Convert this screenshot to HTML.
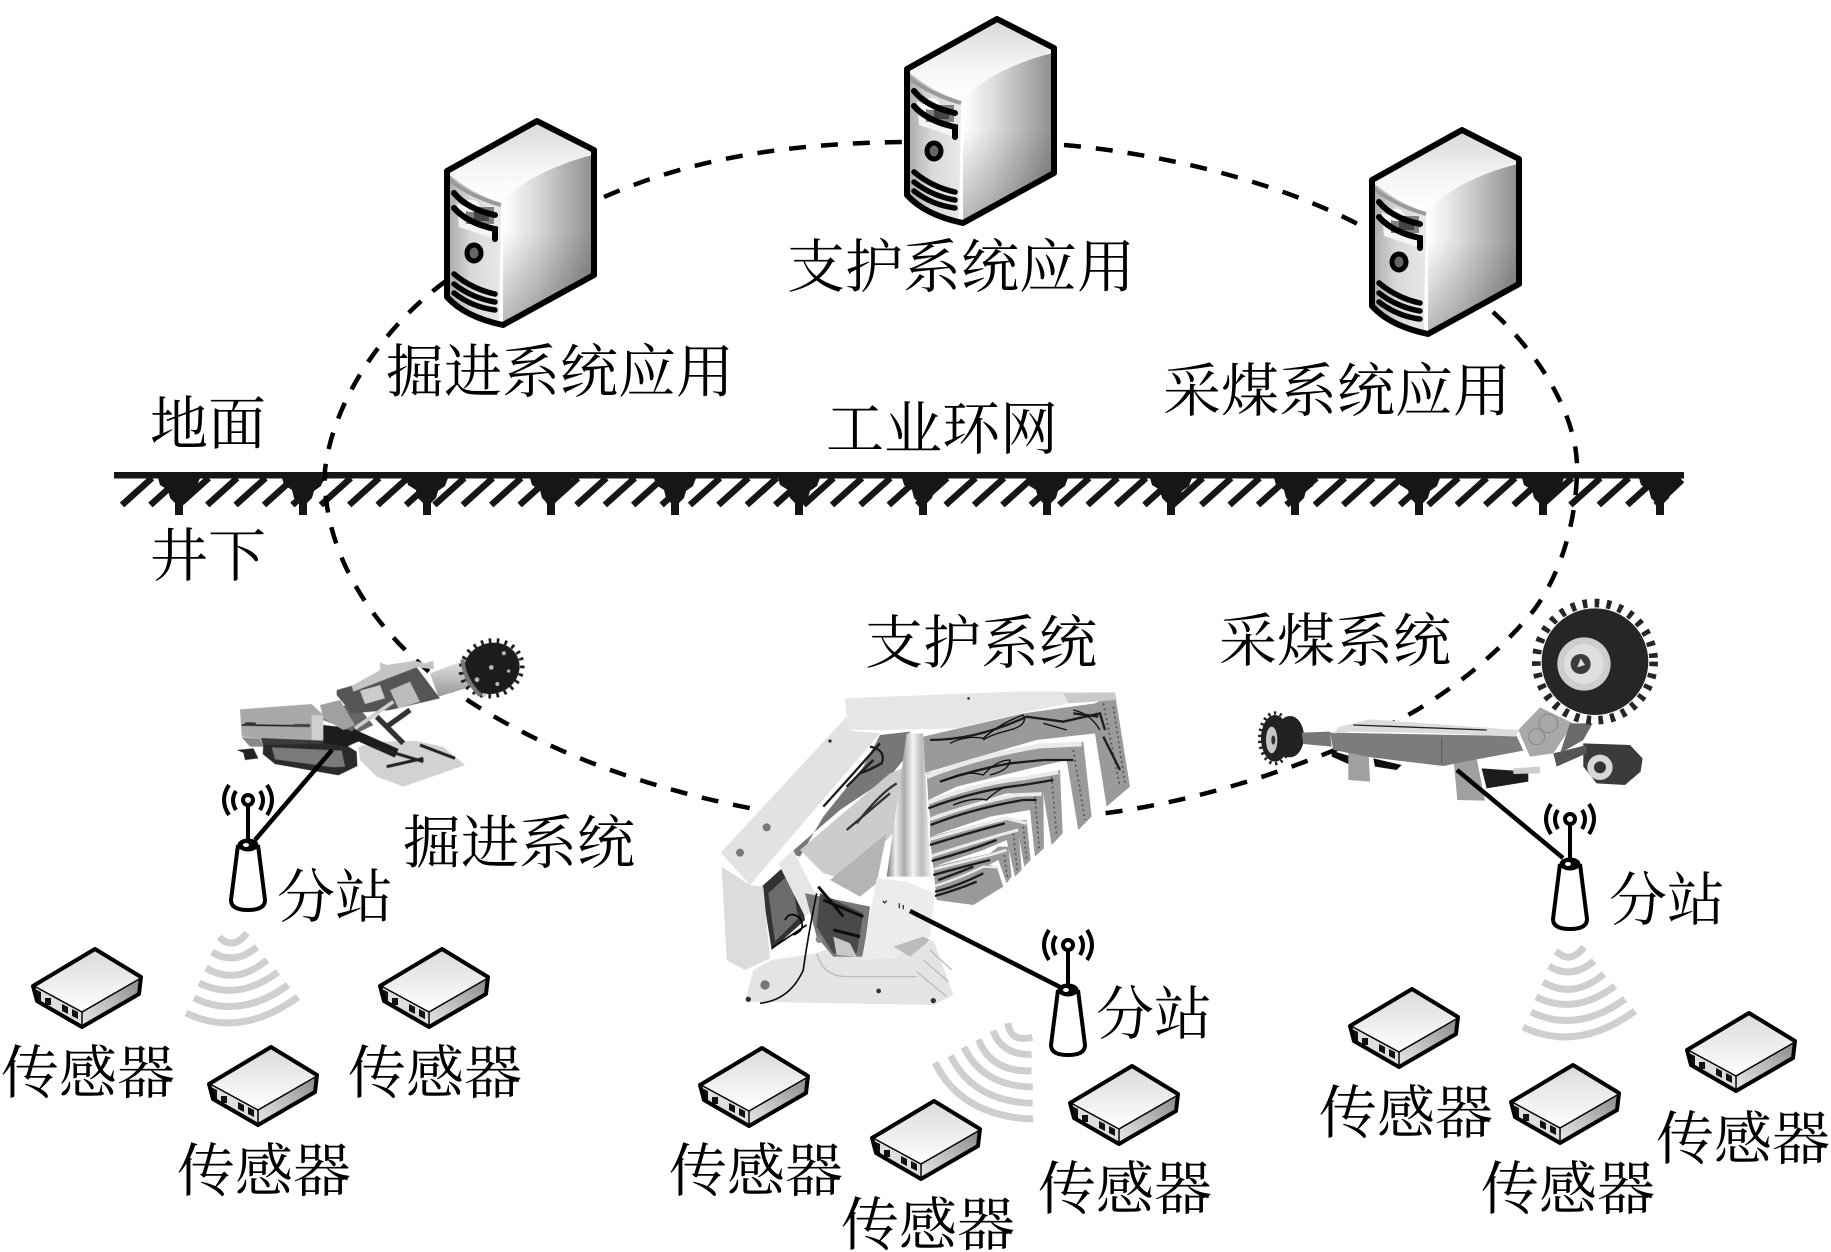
<!DOCTYPE html>
<html lang="zh">
<head>
<meta charset="utf-8">
<title>工业环网系统图</title>
<style>
html,body{margin:0;padding:0;background:#fff;width:1831px;height:1252px;overflow:hidden}
svg{display:block}
text{font-family:"Liberation Serif","Noto Serif CJK SC",serif;font-size:58px;fill:#000}
</style>
</head>
<body>
<svg xmlns="http://www.w3.org/2000/svg" width="1831" height="1252" viewBox="0 0 1831 1252">
<defs>
<filter id="ph" x="-5%" y="-5%" width="110%" height="110%"><feGaussianBlur stdDeviation="0.7"/></filter>
<linearGradient id="sSide" x1="0" x2="1" y1="0" y2="0"><stop offset="0" stop-color="#fff"/><stop offset=".35" stop-color="#dcdcdc"/><stop offset="1" stop-color="#8f8f8f"/></linearGradient>
<linearGradient id="sShade" x1="0" x2="0" y1="0" y2="1"><stop offset=".45" stop-color="#000" stop-opacity="0"/><stop offset="1" stop-color="#000" stop-opacity=".28"/></linearGradient>
<linearGradient id="sTop" x1="0" x2="0" y1="0" y2="1"><stop offset="0" stop-color="#d8d8d8"/><stop offset=".6" stop-color="#f6f6f6"/><stop offset="1" stop-color="#fff"/></linearGradient>
<linearGradient id="sFront" x1="0" x2="1" y1="0" y2="0"><stop offset="0" stop-color="#a8a8a8"/><stop offset=".45" stop-color="#d8d8d8"/><stop offset="1" stop-color="#e8e8e8"/></linearGradient>
<linearGradient id="bSide" x1="0" x2="1" y1="1" y2="0"><stop offset="0" stop-color="#e8e8e8"/><stop offset=".5" stop-color="#bbb"/><stop offset="1" stop-color="#888"/></linearGradient>
<linearGradient id="bTop" x1="0" x2="0" y1="0" y2="1"><stop offset="0" stop-color="#dadada"/><stop offset="1" stop-color="#fff"/></linearGradient>
<linearGradient id="col" x1="0" x2="1" y1="0" y2="0"><stop offset="0" stop-color="#777"/><stop offset=".2" stop-color="#eee"/><stop offset=".4" stop-color="#aaa"/><stop offset=".6" stop-color="#f4f4f4"/><stop offset=".8" stop-color="#bbb"/><stop offset="1" stop-color="#eee"/></linearGradient>
<linearGradient id="cyl" x1="0" x2="0" y1="0" y2="1"><stop offset="0" stop-color="#e0e0e0"/><stop offset="1" stop-color="#999"/></linearGradient>

<g id="server">
  <path d="M-90,50 L0,0 L57,29 L57,154 L-34,204 Q-72,196 -90,176 Z" fill="#fff"/>
  <path d="M-90,52 L0,2 L55,32 L-8,62 L-34,80 Q-65,70 -90,52Z" fill="url(#sTop)"/>
  <path d="M-34,80 Q-5,50 55,34 L55,154 L-34,204 Z" fill="url(#sSide)"/>
  <path d="M-34,80 Q-5,50 55,34 L55,154 L-34,204 Z" fill="url(#sShade)"/>
  <path d="M-90,52 Q-65,72 -36,82 L-38,202 Q-70,192 -90,176 Z" fill="url(#sFront)"/>
  <path d="M-89,58 Q-65,76 -36,84" fill="none" stroke="#999" stroke-width="4"/>
  <path d="M-80,82 L-78,106 L-42,118 L-42,104 Z" fill="#f4f4f4"/>
  <rect x="-71" y="86" width="28" height="17" fill="#808080"/>
  <rect x="-63" y="91" width="15" height="9" fill="#444"/>
  <ellipse cx="-66" cy="85" rx="8" ry="6" fill="#fff"/>
  <path d="M-83,72 Q-70,88 -42,94" fill="none" stroke="#000" stroke-width="6" stroke-linecap="round"/>
  <path d="M-83,87 Q-70,102 -42,108 L-42,118" fill="none" stroke="#000" stroke-width="6" stroke-linecap="round"/>
  <ellipse cx="-63" cy="132" rx="7" ry="8" fill="#666" stroke="#000" stroke-width="5"/>
  <path d="M-83,153 Q-65,168 -42,173 M-83,163 Q-65,177 -42,181 M-83,172 Q-65,186 -42,189" fill="none" stroke="#000" stroke-width="5.5" stroke-linecap="round"/>
  <path d="M-90,50 L0,0 L57,29 L57,154 L-34,204 Q-72,196 -90,176 Z" fill="none" stroke="#000" stroke-width="6" stroke-linejoin="round"/>
</g>

<g id="sensor">
  <path d="M0,0 L46,28 L44,45 L-13,78 L-58,52 L-62,37 Z" fill="#fff"/>
  <path d="M0,1 L46,28 L-13,62 L-61,37 Z" fill="url(#bTop)"/>
  <path d="M46,30 L44,45 L-13,78 L-13,62 Z" fill="url(#bSide)"/>
  <path d="M-61,38 L-14,63 L-14,76 L-57,52 Z" fill="#dedede"/>
  <path d="M-60,40 L-54,43 L-54,54 L-58,52 Z" fill="#111"/>
  <rect x="-50" y="49" width="6" height="7" fill="#111"/>
  <path d="M-33,55 L-27,58 V65 L-33,62 Z M-23,60 L-17,63 V70 L-23,67 Z" fill="#111"/>
  <path d="M0,0 L46,28 L44,45 L-13,78 L-58,52 L-62,37 Z" fill="none" stroke="#000" stroke-width="4" stroke-linejoin="round"/>
  <path d="M-61,37 L-13,63 L46,29 M-13,63 V77" fill="none" stroke="#000" stroke-width="1.500"/>
</g>

<g id="antenna" fill="none" stroke="#000">
  <path d="M-10,2 L-17,57 Q-17,67 0,67 Q17,67 17,57 L10,2" fill="#fff" stroke-width="4"/>
  <path d="M0,-38 V-4" stroke-width="4"/>
  <circle cx="0" cy="-43" r="5" stroke-width="4" fill="#fff"/>
  <path d="M-12,-52 Q-18,-43 -12,-33 M12,-52 Q18,-43 12,-33" stroke-width="4"/>
  <path d="M-19,-58 Q-29,-43 -19,-28 M19,-58 Q29,-43 19,-28" stroke-width="4"/>
  <ellipse cx="0" cy="2" rx="10" ry="6" fill="#000" stroke-width="1"/>
  <ellipse cx="-2" cy="2" rx="3" ry="2" fill="#fff" stroke="none"/>
</g>

<g id="wifi" fill="none" stroke="#cfcfcf" stroke-width="7">
  <path d="M219,937 Q233,951 247,933"/>
  <path d="M212,952 Q234,966 257,947"/>
  <path d="M206,968 Q236,986 267,960"/>
  <path d="M199,983 Q238,1002 278,972"/>
  <path d="M194,998 Q240,1020 288,985"/>
  <path d="M186,1013 Q240,1039 298,997"/>
</g>

<path id="root" d="M-21,478 H21 L18,486 L11,491 L9,498 L4,503 V515 H-4 V503 L-9,498 L-11,490 L-19,485 Z" fill="#161616"/>
</defs>

<rect width="1831" height="1252" fill="#fff"/>

<!-- ground -->
<g stroke="#161616" stroke-width="6.5" stroke-linecap="butt">
  <path d="M122,505 L152,478 M150.400,505 L180.400,478 M178.800,505 L208.800,478 M207.200,505 L237.200,478 M235.600,505 L265.600,478 M264,505 L294,478 M292.400,505 L322.400,478 M320.800,505 L350.800,478 M349.200,505 L379.200,478 M377.600,505 L407.600,478 M406,505 L436,478 M434.400,505 L464.400,478 M462.800,505 L492.800,478 M491.200,505 L521.200,478 M519.600,505 L549.600,478 M548,505 L578,478 M576.400,505 L606.400,478 M604.800,505 L634.800,478 M633.200,505 L663.200,478 M661.600,505 L691.600,478 M690,505 L720,478 M718.400,505 L748.400,478 M746.800,505 L776.800,478 M775.200,505 L805.200,478 M803.600,505 L833.600,478 M832,505 L862,478 M860.400,505 L890.400,478 M888.800,505 L918.800,478 M917.200,505 L947.200,478 M945.600,505 L975.600,478 M974,505 L1004,478 M1002.400,505 L1032.400,478 M1030.800,505 L1060.800,478 M1059.200,505 L1089.200,478 M1087.600,505 L1117.600,478 M1116,505 L1146,478 M1144.400,505 L1174.400,478 M1172.800,505 L1202.800,478 M1201.200,505 L1231.200,478 M1229.600,505 L1259.600,478 M1258,505 L1288,478 M1286.400,505 L1316.400,478 M1314.800,505 L1344.800,478 M1343.200,505 L1373.200,478 M1371.600,505 L1401.600,478 M1400,505 L1430,478 M1428.400,505 L1458.400,478 M1456.800,505 L1486.800,478 M1485.200,505 L1515.200,478 M1513.600,505 L1543.600,478 M1542,505 L1572,478 M1570.400,505 L1600.400,478 M1598.800,505 L1628.800,478 M1627.200,505 L1657.200,478 M1655.600,505 L1682,480" fill="none"/>
</g>
<use href="#root" x="179"/><use href="#root" x="303"/><use href="#root" x="427"/><use href="#root" x="551"/><use href="#root" x="675"/><use href="#root" x="799"/><use href="#root" x="923"/><use href="#root" x="1047"/><use href="#root" x="1171"/><use href="#root" x="1295"/><use href="#root" x="1419"/><use href="#root" x="1543"/><use href="#root" x="1660"/>
<rect x="114" y="472" width="1570" height="6.500" fill="#161616"/>

<!-- dashed ring -->
<g fill="none" stroke="#000" stroke-width="4.500" stroke-dasharray="17 15">
  <path d="M446,281 C385,325 333,400 325,470 C322,545 365,630 460,695 C540,750 650,790 760,810"/>
  <path d="M604,197 C700,155 800,143 905,142"/>
  <path d="M1064,145 C1180,155 1300,190 1372,232"/>
  <path d="M1493,312 C1545,360 1577,420 1577,467 C1577,530 1555,585 1530,615 C1500,650 1465,680 1425,705 C1370,740 1230,800 1090,815"/>
</g>

<use href="#server" x="537" y="121"/>
<use href="#server" x="997" y="19"/>
<use href="#server" x="1462" y="130"/>

<!-- roadheader -->
<g transform="translate(230,630) scale(.3333)" filter="url(#ph)">
  <path d="M20,360 L70,355 L85,385 L45,390 L40,368 Z" fill="#222"/>
  <path d="M30,238 L245,222 L280,255 L280,332 L95,326 L35,320 Z" fill="#a9a9a9"/>
  <path d="M35,322 L90,326 L100,350 L60,350 Z" fill="#888"/>
  <path d="M92,324 L285,332 L345,345 L100,350 Z" fill="#3a3a3a"/>
  <path d="M35,285 L240,288" stroke="#222" stroke-width="5"/>
  <rect x="245" y="255" width="35" height="75" fill="#cfcfcf"/>
  <rect x="45" y="277" width="32" height="10" fill="#333"/><rect x="190" y="282" width="50" height="9" fill="#444"/>
  <path d="M100,345 L340,340 L380,365 L382,408 L325,436 L135,402 L98,372 Z" fill="#2c2c2c"/>
  <path d="M125,352 L335,362 L345,410 L310,412 L135,388 Z" fill="#7a7a7a"/>
  <path d="M280,285 L370,295 L395,330 L350,350 L280,340 Z" fill="#1e1e1e"/>
  <path d="M280,230 L380,225 L430,285 L380,310 L330,290 L280,270Z" fill="#666"/>
  <path d="M385,350 L450,335 L560,333 L640,350 L705,405 L520,470 L440,440 L390,390 Z" fill="#d2d2d2"/>
  <path d="M365,310 L500,370" stroke="#1a1a1a" stroke-width="28"/>
  <path d="M430,350 L580,395 M570,345 L675,385 M470,410 L580,385" stroke="#222" stroke-width="9" fill="none"/>
  <path d="M440,260 L520,340 M470,290 L540,240" stroke="#333" stroke-width="16"/>
  <path d="M270,225 L330,210 L375,285 L340,300 L280,265 Z" fill="#a0a0a0"/>
  <path d="M320,180 L560,112 L630,205 L480,240 L365,250 L320,195 Z" fill="#555"/>
  <path d="M450,97 L470,105 L555,92 L585,100 L610,92 L612,118 L560,112 L370,185 L365,168 L450,120 Z" fill="#c4c4c4"/>
  <path d="M390,182 L450,165 L465,205 L405,222 Z" fill="#cccccc"/>
  <path d="M480,180 L540,155 L570,215 L505,235 Z" fill="#bcbcbc"/>
  <path d="M375,295 L490,215" stroke="#cfcfcf" stroke-width="11"/>
  <path d="M600,130 L695,95 L718,172 L625,200 Z" fill="url(#cyl)"/>
  <g transform="rotate(-20 785 115)">
    <ellipse cx="785" cy="115" rx="85" ry="76" fill="#1f1f1f"/>
    <ellipse cx="785" cy="115" rx="93" ry="82" fill="none" stroke="#1f1f1f" stroke-width="14" stroke-dasharray="8 16"/>
    <path d="M712,60 Q695,115 725,180" stroke="#777" stroke-width="12" fill="none"/>
    <g fill="#bbb"><circle cx="732" cy="132" r="7"/><circle cx="785" cy="112" r="7"/><circle cx="785" cy="165" r="6"/><circle cx="835" cy="85" r="6"/><circle cx="830" cy="140" r="5"/><circle cx="735" cy="182" r="6"/></g>
  </g>
</g>

<!-- support -->
<g transform="translate(690,660) scale(.3333)" filter="url(#ph)">
  <g fill="#9a9a9a">
    <path d="M735,670 L880,610 L920,620 L940,680 L850,735 L740,720 Z"/>
    <path d="M730,620 L900,580 L925,560 L955,560 L965,650 L950,670 L925,600 L850,640 L735,670Z"/>
    <path d="M725,580 L930,520 L950,500 L985,500 L995,630 L975,650 L950,540 L880,570 L730,620Z"/>
    <path d="M720,530 L950,470 L985,480 L1010,480 L1022,600 L1003,620 L985,520 L900,530 L725,580Z"/>
    <path d="M720,470 L980,400 L1020,400 L1060,395 L1062,565 L1035,590 L1020,450 L900,470 L720,530Z"/>
    <path d="M715,420 L1000,350 L1060,340 L1110,330 L1118,520 L1085,555 L1060,400 L950,400 L720,470Z"/>
    <path d="M710,340 L1050,250 L1130,260 L1180,245 L1205,470 L1165,510 L1130,300 L1000,330 L800,380 L715,420Z"/>
    <path d="M700,230 L1000,160 L1215,130 L1275,100 L1320,380 L1250,440 L1215,220 L1040,240 L800,310 L700,340Z"/>
  </g>
  <g fill="none" stroke="#555" stroke-width="5" stroke-dasharray="6 9">
    <path d="M1240,130 L1290,380 M1270,140 L1305,370"/>
    <path d="M1150,270 L1185,480"/>
    <path d="M1085,350 L1100,530"/>
    <path d="M1035,410 L1048,570"/>
    <path d="M1000,500 L1010,600 M970,520 L982,630 M940,570 L952,650"/>
  </g>
  <g fill="none" stroke="#eaeaea">
    <path d="M735,678 Q820,650 880,620 L925,622" stroke-width="7"/>
    <path d="M730,628 Q820,605 900,585 L950,570" stroke-width="8"/>
    <path d="M725,588 Q830,555 930,525 L985,510" stroke-width="9"/>
    <path d="M720,538 Q830,505 950,475 L1010,490" stroke-width="10"/>
    <path d="M720,478 Q850,430 980,405 L1055,402" stroke-width="11"/>
    <path d="M715,428 Q860,370 1000,355 L1105,337" stroke-width="12"/>
    <path d="M710,350 Q860,290 1050,258 L1175,252" stroke-width="14"/>
  </g>
  <g fill="none" stroke="#1c1c1c" stroke-width="7">
    <path d="M735,695 Q800,680 880,640 M735,708 Q800,690 860,665 M745,660 Q800,640 850,620"/>
    <path d="M730,645 Q820,620 900,600"/>
    <path d="M725,603 Q830,575 920,540"/>
    <path d="M720,555 Q830,520 945,490"/>
    <path d="M722,495 Q850,445 1000,420 L1040,420"/>
    <path d="M715,445 Q860,390 1000,375 L1090,360"/>
    <path d="M750,365 Q850,330 960,310 L1060,300 L1150,300"/>
    <path d="M720,240 Q860,240 1010,170 L1120,185 L1230,160 L1245,210"/>
    <path d="M1150,160 L1225,170 M1240,230 L1290,330"/>
  </g>
  <g fill="none" stroke="#111" stroke-width="4">
    <path d="M780,250 Q830,225 880,235 Q930,190 1000,165 Q1015,195 960,210 Q900,225 880,240"/>
    <path d="M780,355 Q830,330 880,345 Q920,300 960,300 Q960,330 900,345"/>
    <path d="M790,435 Q850,410 890,420 Q920,390 950,380"/>
    <path d="M1060,190 L1130,210 M1150,150 Q1200,160 1230,210"/>
  </g>
  <path d="M465,115 L975,95 L1120,95 L1135,130 L990,160 L800,205 L570,210 L480,210 L470,170 Z" fill="#e6e6e6"/>
  <path d="M1120,98 L1275,97 L1280,120 L1135,130 Z" fill="#cacaca"/>
  <path d="M470,170 L92,578 L180,675 L570,220 L480,212 Z" fill="#e2e2e2"/>
  <path d="M570,225 L660,215 L640,300 L600,350 L450,450 L300,580 L330,590 L400,470 L520,320 Z" fill="#777"/>
  <path d="M570,250 Q500,330 400,440 M550,300 L470,380 M540,260 Q590,270 575,310 Q540,330 510,340" stroke="#1c1c1c" stroke-width="7" fill="none"/>
  <path d="M330,570 L600,340 L650,320 L620,510 L470,660 L400,640 Z" fill="#cccccc"/>
  <path d="M500,490 Q570,400 620,370 M470,510 L600,400" stroke="#333" stroke-width="7" fill="none"/>
  <path d="M420,660 L590,520 L560,670 L510,710 Z" fill="#b4b4b4"/>
  <path d="M215,680 L315,590 L345,780 L245,870 Z" fill="#333"/>
  <path d="M235,700 L300,640 L325,775 L255,845 Z" fill="#6c6c6c"/>
  <path d="M245,865 L350,795 M285,780 Q300,750 330,775 Q350,810 310,825" stroke="#000" stroke-width="5" fill="none"/>
  <path d="M95,620 L180,675 L220,680 L240,895 L165,930 L110,900 Z" fill="#dcdcdc"/>
  <path d="M265,610 L310,570 L390,730 L345,770 Z" fill="#e6e6e6"/>
  <path d="M165,1025 L190,930 L245,900 L380,880 L430,860 L680,860 L730,840 L790,1005 L730,1035 Z" fill="#e4e4e4"/>
  <path d="M345,700 L540,740 L520,890 L430,890 L380,830 Z" fill="#777"/>
  <path d="M390,700 L520,760 L500,880 L430,880 L380,800 Z" fill="#4a4a4a"/>
  <path d="M400,720 L520,770 M385,680 L460,770 M430,810 L510,830" stroke="#111" stroke-width="9" fill="none"/>
  <path d="M430,830 L480,850 L500,890 L440,885 Z" fill="#c8c8c8"/>
  <path d="M380,880 Q400,950 470,950 L680,950 M680,935 L770,1010 M700,900 L775,965 M720,870 L785,930" fill="none" stroke="#bbb" stroke-width="4"/>
  <path d="M380,700 Q350,850 340,930 Q300,1020 210,1030" stroke="#111" stroke-width="5" fill="none"/>
  <g fill="#333"><circle cx="175" cy="1018" r="8"/><circle cx="566" cy="993" r="7"/><circle cx="730" cy="1022" r="8"/><circle cx="225" cy="975" r="14" fill="#777"/><circle cx="388" cy="838" r="11" fill="#888"/><circle cx="150" cy="578" r="12" fill="#777"/><circle cx="230" cy="502" r="12" fill="#777"/><circle cx="420" cy="243" r="5"/><circle cx="836" cy="115" r="4"/></g>
  <path d="M650,220 L700,220 L722,650 L590,650 Z" fill="url(#col)"/>
  <path d="M560,655 L650,665 L735,700 L720,830 L620,895 L515,900 Z" fill="#ececec"/>
  <path d="M610,860 L700,830 L720,840 L660,890 Z" fill="#bbb"/>
  <path d="M580,722 Q582,735 590,722 M628,730 V745 M640,735 V748" stroke="#333" stroke-width="4" fill="none"/>
</g>

<!-- shearer -->
<g transform="translate(1220,590) scale(.3333)" filter="url(#ph)">
  <ellipse cx="165" cy="445" rx="42" ry="70" fill="#222"/>
  <ellipse cx="210" cy="440" rx="42" ry="62" fill="#222"/>
  <ellipse cx="165" cy="445" rx="46" ry="76" fill="none" stroke="#222" stroke-width="10" stroke-dasharray="7 11"/>
  <ellipse cx="155" cy="450" rx="17" ry="40" fill="#c8c8c8"/>
  <ellipse cx="160" cy="450" rx="6" ry="14" fill="#333"/>
  <path d="M245,428 L330,425 L335,470 L250,462 Z" fill="#777"/>
  <path d="M335,482 L395,500 L385,522 L335,500 Z" fill="#111"/>
  <path d="M460,505 L545,525 L530,540 L465,530 Z" fill="#111"/>
  <path d="M1090,460 L1230,465 L1268,505 L1262,545 L1215,585 L1130,580 L1090,530 Z" fill="#3a3a3a"/>
  <circle cx="1140" cy="532" r="38" fill="#d6d6d6"/>
  <circle cx="1140" cy="532" r="18" fill="#333"/>
  <path d="M1000,490 L1100,465 L1100,490 L1010,530 Z" fill="#555"/>
  <path d="M785,535 L925,545 L925,575 L800,595 Z" fill="#1b1b1b"/>
  <path d="M880,535 L960,530 L960,550 L880,552 Z" fill="#ccc"/>
  <path d="M385,470 L445,470 L450,575 L385,570 Z" fill="#a0a0a0"/>
  <path d="M700,500 L770,505 L795,632 L712,630 Z" fill="#a0a0a0"/>
  <path d="M330,428 L890,438 L910,482 L760,510 L670,528 L460,503 L340,480 Z" fill="#7c7c7c"/>
  <path d="M358,410 L450,388 L895,420 L888,440 L660,430 L400,425 L340,430 Z" fill="#dcdcdc"/>
  <path d="M400,405 L800,420" stroke="#222" stroke-width="4"/>
  <path d="M665,445 V520" stroke="#555" stroke-width="3"/>
  <path d="M895,420 L960,352 L1060,400 L1000,490 L930,500 Z" fill="#a8a8a8"/>
  <circle cx="985" cy="400" r="28" fill="none" stroke="#888" stroke-width="3"/>
  <circle cx="950" cy="440" r="24" fill="none" stroke="#888" stroke-width="3"/>
  <path d="M1050,400 L1118,400 L1090,450 L1020,490 Z" fill="#6a6a6a"/>
  <circle cx="1125" cy="215" r="160" fill="#262626"/>
  <circle cx="1125" cy="215" r="176" fill="none" stroke="#262626" stroke-width="26" stroke-dasharray="14 22"/>
  <circle cx="1092" cy="222" r="80" fill="#cdcdcd"/>
  <circle cx="1092" cy="222" r="60" fill="#dedede"/>
  <circle cx="1082" cy="222" r="30" fill="#3a3a3a"/>
  <path d="M1082,205 L1095,225 L1072,232 Z" fill="#ddd"/>
</g>

<!-- links & antennas -->
<g stroke="#000" stroke-width="4.500" fill="none">
  <path d="M255,840 L332,750"/>
  <path d="M910,911 L1062,988"/>
  <path d="M1457,770 L1563,858"/>
</g>
<use href="#antenna" x="248" y="843"/>
<use href="#antenna" x="1068" y="988"/>
<use href="#antenna" x="1570" y="862"/>

<!-- waves -->
<use href="#wifi"/>
<use href="#wifi" x="1337" y="14"/>
<g transform="translate(1001,1066) rotate(38) translate(-240,-975)"><use href="#wifi"/></g>

<!-- sensors -->
<use href="#sensor" x="95" y="949"/>
<use href="#sensor" x="442" y="949"/>
<use href="#sensor" x="271" y="1047"/>
<use href="#sensor" x="762" y="1048"/>
<use href="#sensor" x="934" y="1101"/>
<use href="#sensor" x="1132" y="1066"/>
<use href="#sensor" x="1412" y="989"/>
<use href="#sensor" x="1573" y="1065"/>
<use href="#sensor" x="1749" y="1013"/>

<!-- labels -->
<text x="386" y="392">掘进系统应用</text>
<text x="787" y="287">支护系统应用</text>
<text x="1163" y="411">采煤系统应用</text>
<text x="150" y="444">地面</text>
<text x="826" y="449">工业环网</text>
<text x="150" y="576">井下</text>
<text x="865" y="663">支护系统</text>
<text x="1219" y="661">采煤系统</text>
<text x="403" y="863">掘进系统</text>
<text x="277" y="917">分站</text>
<text x="1096" y="1034">分站</text>
<text x="1609" y="920">分站</text>
<text x="1" y="1093">传感器</text>
<text x="348" y="1093">传感器</text>
<text x="177" y="1191">传感器</text>
<text x="669" y="1191">传感器</text>
<text x="841" y="1245">传感器</text>
<text x="1038" y="1209">传感器</text>
<text x="1319" y="1133">传感器</text>
<text x="1481" y="1209">传感器</text>
<text x="1656" y="1159">传感器</text>
</svg>
</body>
</html>
